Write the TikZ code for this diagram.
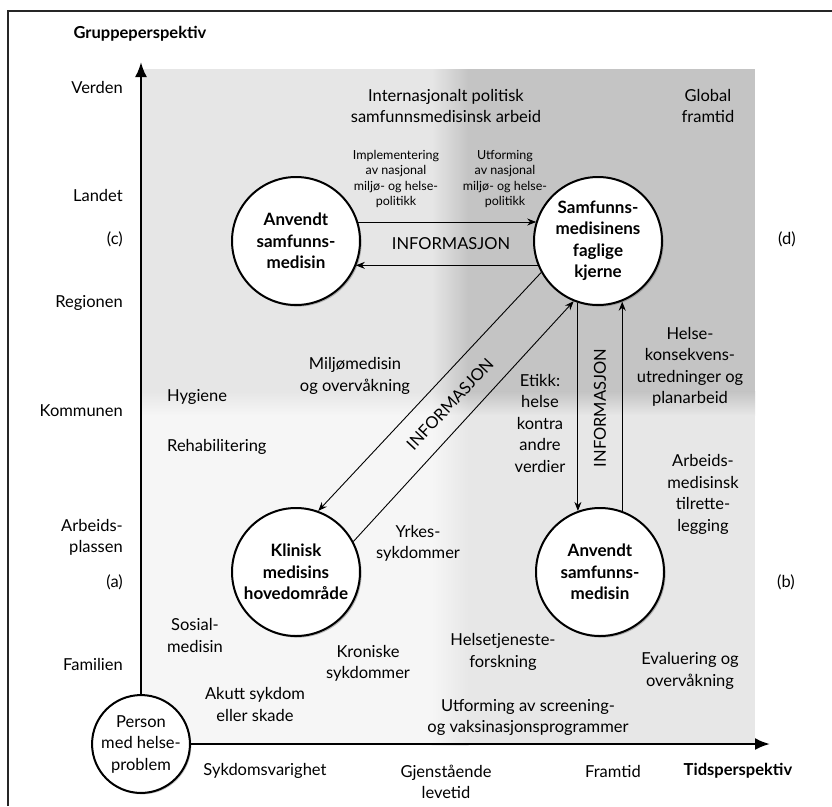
\documentclass[tikz,border=0pt]{standalone}
\usepackage{fontspec}
\setmainfont{Lato}
\usetikzlibrary{arrows.meta,shadows,shadings}
\definecolor{cTL}{HTML}{E6E6E6}
\definecolor{cTR}{HTML}{C4C4C4}
\definecolor{cBL}{HTML}{F6F6F6}
\definecolor{cBR}{HTML}{E7E7E7}
\tikzset{
  lbl/.style={font=\fontsize{16.5}{21.5}\selectfont, align=center, inner sep=0pt},
  sml/.style={font=\fontsize{12.5}{15.3}\selectfont, align=center, inner sep=0pt},
  axlbl/.style={font=\bfseries\fontsize{16.5}{21.5}\selectfont, inner sep=0pt},
  bigc/.style={circle, draw, line width=2pt, fill=white, minimum size=128pt, inner sep=0pt,
    font=\bfseries\fontsize{17}{21.5}\selectfont, align=center,
    drop shadow={shadow xshift=1.6pt, shadow yshift=-1.6pt, opacity=0.55}},
  smallc/.style={circle, draw, line width=2pt, fill=white, minimum size=92pt, inner sep=0pt,
    font=\fontsize{16.5}{21.5}\selectfont, align=center,
    drop shadow={shadow xshift=1.4pt, shadow yshift=-1.4pt, opacity=0.5}},
  arr/.style={line width=0.9pt, -{Stealth[length=9pt,width=7pt]}},
  axisline/.style={line width=2.4pt, -{Latex[length=15pt,width=12pt]}},
  frameline/.style={line width=1.4pt, draw=black!85},
}
\begin{document}
\begin{tikzpicture}[x=1pt,y=-1pt]
\useasboundingbox (0,0) rectangle (832,806);
% frame
\draw[frameline] (8,806) -- (8,11) -- (832,11);
% background shading
\fill[cTL] (142,69) rectangle (432,392);
\shade[left color=cTL, right color=cTR] (431.5,69) rectangle (468.5,392);
\fill[cTR] (468,69) rectangle (755,392);
\shade[top color=cTL, bottom color=cBL] (142,391.5) rectangle (432,415.5);
\shade[upper left=cTL, upper right=cTR, lower left=cBL, lower right=cBR] (431.5,391.5) rectangle (468.5,415.5);
\shade[top color=cTR, bottom color=cBR] (468,391.5) rectangle (755,415.5);
\fill[cBL] (142,415) rectangle (432,745);
\shade[left color=cBL, right color=cBR] (431.5,415) rectangle (468.5,745);
\fill[cBR] (468,415) rectangle (755,745);

% circles
\node[bigc] (A) at (296,241) {Anvendt\\samfunns-\\medisin};
\node[bigc] (C) at (598,241) {Samfunns-\\medisinens\\faglige\\kjerne};
\node[bigc] (K) at (296,572) {Klinisk\\medisins\\hovedområde};
\node[bigc] (B) at (600,572) {Anvendt\\samfunns-\\medisin};
\node[smallc] (P) at (141,744) {Person\\med helse-\\problem};

% axes
\coordinate (ytip) at (141,62);
\coordinate (xtip) at (770,744);
\draw[axisline] (P.north) -- (ytip);
\draw[axisline] (P.east) -- (xtip);

% arrows
\draw[arr] (A.17.6) -- (A.17.6 -| C.162.7);
\draw[arr] (C.202) -- (C.202 -| A.337.6);
\draw[arr] (C.252) -- (C.252 |- B.110);
\draw[arr] (B.70) -- (B.70 |- C.291.7);
\draw[arr] (C.209) -- (K.70);
\draw[arr] (K.28.5) -- (C.248);

% INFORMASJON labels
\node[lbl] (i1) at (451,244) {INFORMASJON};
\node[lbl, rotate=46.8] (i2) at (450,404) {INFORMASJON};
\node[lbl, rotate=90] (i3) at (600,408) {INFORMASJON};

% axis titles
\node[axlbl] (gp) at (140,34) {Gruppeperspektiv};
\node[axlbl] (tp) at (738,771) {Tidsperspektiv};

% left scale
\node[lbl, anchor=east] (l1) at (123,87) {Verden};
\node[lbl, anchor=east] (l2) at (123,195) {Landet};
\node[lbl, anchor=east] (l3) at (123,239) {(c)};
\node[lbl, anchor=east] (l4) at (123,303) {Regionen};
\node[lbl, anchor=east] (l5) at (123,411) {Kommunen};
\node[lbl, anchor=east, align=right] (l6) at (123,537.5) {Arbeids-\\plassen};
\node[lbl, anchor=east] (l7) at (123,582) {(a)};
\node[lbl, anchor=east] (l8) at (123,664) {Familien};
\node[lbl] (r1) at (787,239) {(d)};
\node[lbl] (r2) at (786,582) {(b)};

% bottom scale
\node[lbl] (b1) at (265,771) {Sykdomsvarighet};
\node[lbl] (b2) at (446,782) {Gjenstående\\levetid};
\node[lbl] (b3) at (613,771) {Framtid};

% inner texts
\node[lbl] (t1) at (446,106) {Internasjonalt politisk\\samfunnsmedisinsk arbeid};
\node[lbl] (t2) at (708,106) {Global\\framtid};
\node[sml] (t3) at (396,179) {Implementering\\av nasjonal\\miljø- og helse-\\politikk};
\node[sml] (t4) at (505,179) {Utforming\\av nasjonal\\miljø- og helse-\\politikk};
\node[lbl] (t5) at (355,376) {Miljømedisin\\og overvåkning};
\node[lbl, anchor=west] (t6) at (167,397) {Hygiene};
\node[lbl, anchor=west] (t7) at (167,447) {Rehabilitering};
\node[lbl] (t8) at (540,423) {Etikk:\\helse\\kontra\\andre\\verdier};
\node[lbl] (t9) at (690,367) {Helse-\\konsekvens-\\utredninger og\\planarbeid};
\node[lbl] (t10) at (703,494.5) {Arbeids-\\medisinsk\\tilrette-\\legging};
\node[lbl] (t11) at (418,543.5) {Yrkes-\\sykdommer};
\node[lbl] (t12) at (195,635.5) {Sosial-\\medisin};
\node[lbl] (t13) at (368,663.5) {Kroniske\\sykdommer};
\node[lbl] (t14) at (255,704.5) {Akutt sykdom\\eller skade};
\node[lbl] (t15) at (503,652) {Helsetjeneste-\\forskning};
\node[lbl] (t16) at (690,671) {Evaluering og\\overvåkning};
\node[lbl] (t17) at (528,717.5) {Utforming av screening-\\og vaksinasjonsprogrammer};
\end{tikzpicture}
\end{document}
